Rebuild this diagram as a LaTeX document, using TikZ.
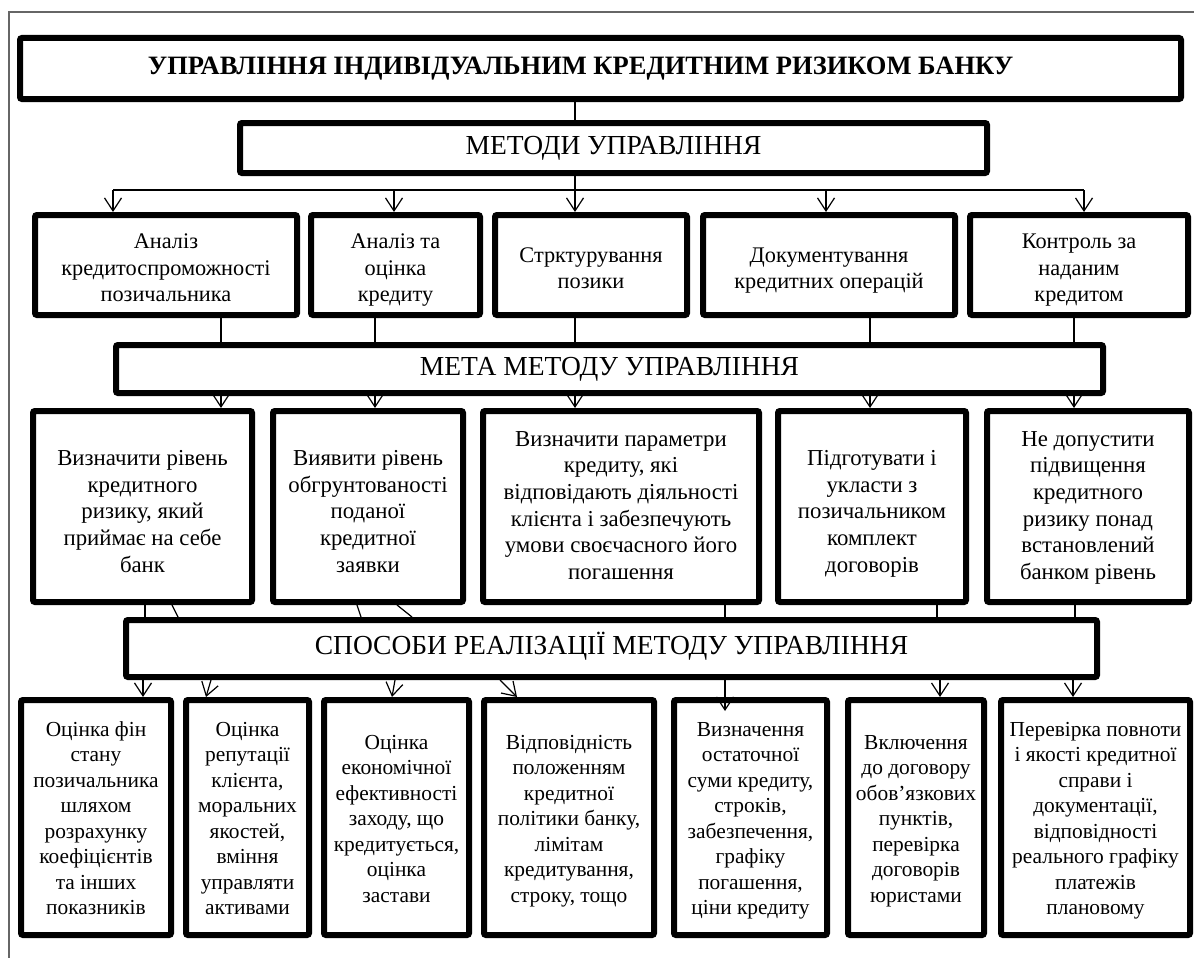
\documentclass[tikz,border=0pt]{standalone}
\usepackage{fontspec}
\setmainfont{Liberation Serif}
\usetikzlibrary{arrows.meta}
\newcommand\tsh{0}
\newcommand\txs{0}
\newcommand\bx[7][]{\node[box,#1,minimum width={#5-#3-6},minimum height={#6-#4-6}] (#2) at ({(#3+#5)/2},{(#4+#6)/2})
  {\raisebox{-\tsh pt}[\height][\depth]{\hspace*{\txs pt}\begin{tabular}{@{}c@{}}#7\end{tabular}\hspace*{-\txs pt}}};}
\begin{document}
\begin{tikzpicture}[x=1pt,y=-1pt,
  tshift/.code={\def\tsh{#1}},
  txshift/.code={\def\txs{#1}},
  box/.style={draw, line width=6pt, rounded corners=2pt, inner sep=0pt, align=center, tshift=0, txshift=0},
  r1/.style={font=\fontsize{22.3}{26.5}\selectfont, tshift=5},
  r2/.style={font=\fontsize{22.8}{26.6}\selectfont, tshift=#1},
  r3/.style={font=\fontsize{21.4}{25.5}\selectfont, tshift=3},
  head/.style={font=\fontsize{27.5}{32}\selectfont},
  title/.style={font=\bfseries\fontsize{26.5}{30}\selectfont, txshift=-20},
  conn/.style={line width=1.2pt},
  arr/.style={line width=1.2pt, -{Straight Barb[length=13pt,width=17pt,line width=1.2pt]}},
  frame/.style={draw=black!60, line width=1.2pt}]
\useasboundingbox (0,0) rectangle (1194,958);
\draw[frame] (9,958) -- (9,12) -- (1194,12);

\bx[title]{T}{17}{35}{1184}{102}{УПРАВЛІННЯ ІНДИВІДУАЛЬНИМ КРЕДИТНИМ РИЗИКОМ БАНКУ}
\bx[head]{M}{237}{120}{990}{176}{МЕТОДИ УПРАВЛІННЯ}

\bx[r1]{a1}{32}{212}{300}{318}{Аналіз\\кредитоспроможності\\позичальника}
\bx[r1]{a2}{308}{212}{483}{318}{Аналіз та\\оцінка\\кредиту}
\bx[r1]{a3}{492}{212}{690}{318}{Стрктурування\\позики}
\bx[r1]{a4}{700}{212}{958}{318}{Документування\\кредитних операцій}
\bx[r1]{a5}{967}{212}{1191}{318}{Контроль за\\наданим\\кредитом}

\bx[head]{meta}{113}{342}{1106}{396}{МЕТА МЕТОДУ УПРАВЛІННЯ}

\bx[r2=7]{b1}{30}{408}{255}{605}{Визначити рівень\\кредитного\\ризику, який\\приймає на себе\\банк}
\bx[r2=7]{b2}{270}{408}{466}{605}{Виявити рівень\\обгрунтованості\\поданої\\кредитної\\заявки}
\bx[r2=1]{b3}{480}{408}{762}{605}{Визначити параметри\\кредиту, які\\відповідають діяльності\\клієнта і забезпечують\\умови своєчасного його\\погашення}
\bx[r2=7]{b4}{775}{408}{969}{605}{Підготувати і\\укласти з\\позичальником\\комплект\\договорів}
\bx[r2=1]{b5}{984}{408}{1192}{605}{Не допустити\\підвищення\\кредитного\\ризику понад\\встановлений\\банком рівень}

\bx[head]{sp}{123}{617}{1100}{680}{СПОСОБИ РЕАЛІЗАЦІЇ МЕТОДУ УПРАВЛІННЯ}

\bx[r3]{c1}{18}{697}{174}{938}{Оцінка фін\\стану\\позичальника\\шляхом\\розрахунку\\коефіцієнтів\\та інших\\показників}
\bx[r3]{c2}{183}{697}{312}{938}{Оцінка\\репутації\\клієнта,\\моральних\\якостей,\\вміння\\управляти\\активами}
\bx[r3]{c3}{321}{697}{472}{938}{Оцінка\\економічної\\ефективності\\заходу, що\\кредитується,\\оцінка\\застави}
\bx[r3]{c4}{481}{697}{657}{938}{Відповідність\\положенням\\кредитної\\політики банку,\\лімітам\\кредитування,\\строку, тощо}
\bx[r3]{c5}{671}{697}{830}{938}{Визначення\\остаточної\\суми кредиту,\\строків,\\забезпечення,\\графіку\\погашення,\\ціни кредиту}
\bx[r3]{c6}{845}{697}{987}{938}{Включення\\до договору\\обов’язкових\\пунктів,\\перевірка\\договорів\\юристами}
\bx[r3]{c7}{998}{697}{1193}{938}{Перевірка повноти\\і якості кредитної\\справи і\\документації,\\відповідності\\реального графіку\\платежів\\плановому}

% top connectors
\coordinate (bus) at (575,190);
\coordinate (busL) at (113,190);
\coordinate (busR) at (1084,190);
\draw[conn] (T.south -| bus) -- (M.north -| bus);
\draw[conn] (M.south -| bus) -- (bus);
\draw[conn] (busL) -- (busR);
\draw[arr] (busL) -- (a1.north -| busL);
\draw[arr] (bus -| 394,0) -- (a2.north -| 394,0);
\draw[arr] (bus) -- (a3.north -| bus);
\draw[arr] (bus -| 826,0) -- (a4.north -| 826,0);
\draw[arr] (busR) -- (a5.north -| busR);

% row1 -> meta -> row2
\foreach \n/\x in {a1/221,a2/375,a3/575,a4/870,a5/1074}{
  \draw[conn] (\n.south -| \x,0) -- (meta.north -| \x,0);}
\foreach \n/\x in {b1/221,b2/375,b3/575,b4/870,b5/1074}{
  \draw[arr] (meta.south -| \x,0) -- (\n.north -| \x,0);}

% row2 -> sp
\draw[conn] (b1.south -| 145,0) -- (sp.north -| 145,0);
\draw[conn] (b1.south -| 172,0) -- (sp.north -| 178,0);
\draw[conn] (b2.south -| 357,0) -- (sp.north -| 361,0);
\draw[conn] (b2.south -| 397,0) -- (sp.north -| 412,0);
\draw[conn] (b3.south -| 725,0) -- (sp.north -| 725,0);
\draw[conn] (b4.south -| 937,0) -- (sp.north -| 937,0);
\draw[conn] (b5.south -| 1075,0) -- (sp.north -| 1075,0);

% sp -> row3
\coordinate (c5in) at (725,711);
\draw[arr] (sp.south -| 143,0) -- (c1.north -| 143,0);
\draw[arr] (sp.south -| 211,0) -- (c2.north -| 206,0);
\draw[arr] (sp.south -| 395,0) -- (c3.north -| 392,0);
\draw[arr] (sp.south -| 500,0) -- (c4.north -| 517,0);
\draw[arr] (sp.south -| c5in) -- (c5in);
\draw[arr] (sp.south -| 940,0) -- (c6.north -| 940,0);
\draw[arr] (sp.south -| 1073,0) -- (c7.north -| 1073,0);
\end{tikzpicture}
\end{document}
